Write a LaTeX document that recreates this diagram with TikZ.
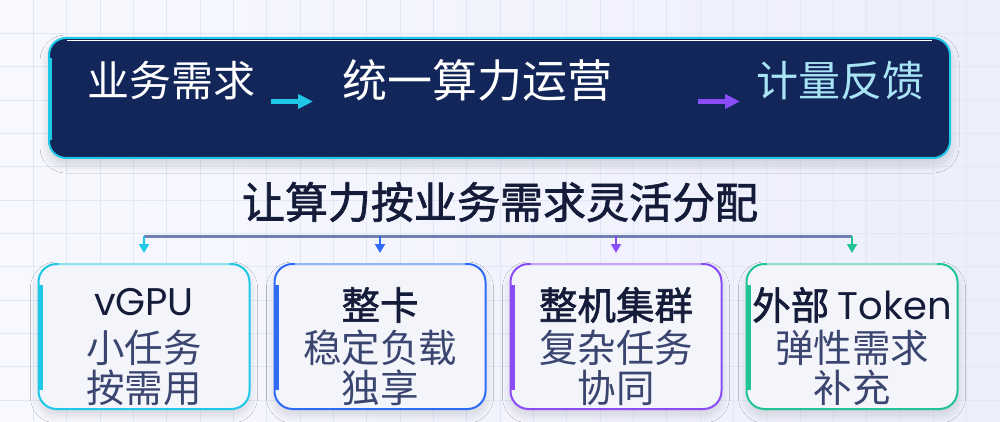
\documentclass[tikz,border=0pt]{standalone}
\usepackage{fontspec}
\setmainfont{Noto Sans CJK SC}
\newfontfamily\cjkmed[FakeBold=1.6]{Noto Sans CJK SC}
\newfontfamily\geo{Poppins}
\usetikzlibrary{arrows.meta,shadows.blur}
\definecolor{bgL}{HTML}{F8F9FE}
\definecolor{bgR}{HTML}{ECEEFC}
\definecolor{gridc}{HTML}{E2E7F5}
\definecolor{navy}{HTML}{13265A}
\definecolor{cyanC}{HTML}{1FC8E6}
\definecolor{blueC}{HTML}{2E6CF6}
\definecolor{purpC}{HTML}{8A4CF5}
\definecolor{greenC}{HTML}{22C495}
\definecolor{lightcyan}{HTML}{A8E4F4}
\definecolor{ink}{HTML}{141C3A}
\definecolor{subink}{HTML}{3A4570}
\definecolor{busc}{HTML}{6F80B0}
\definecolor{cardfill}{HTML}{F4F5FA}
\tikzset{
  gridline/.style={gridc, line width=0.8pt},
  banner/.style={draw=cyanC, fill=navy, line width=2pt, rounded corners=17pt,
    minimum width=901pt, minimum height=120pt, inner sep=0pt,
    blur shadow={shadow blur steps=20, shadow xshift=0pt, shadow yshift=-6pt, shadow opacity=16, shadow blur radius=9pt}},
  card/.style={fill=cardfill, line width=2pt, rounded corners=18pt,
    minimum width=211pt, minimum height=145pt, inner sep=0pt,
    blur shadow={shadow blur steps=20, shadow xshift=0pt, shadow yshift=-6pt, shadow opacity=14, shadow blur radius=8pt}},
  bantext/.style={inner sep=0pt, font=\fontsize{42}{50}\selectfont},
  title/.style={inner sep=0pt, text=ink, font=\fontsize{43}{50}\selectfont\cjkmed},
  hdr/.style={inner sep=0pt, text=ink, font=\fontsize{38.5}{42}\selectfont\cjkmed},
  hdrlat/.style={inner sep=0pt, text=ink, font=\fontsize{38.5}{42}\selectfont},
  sub/.style={inner sep=0pt, text=subink, align=center, font=\fontsize{38.5}{40}\selectfont},
  flowarrow/.style={line width=5pt, -{Triangle[length=15pt,width=14pt]}},
  downarrow/.style={line width=2pt, -{Triangle[length=9pt,width=10pt]}, shorten >=10pt},
}
\begin{document}
\begin{tikzpicture}[x=1pt,y=-1pt]
\useasboundingbox (0,0) rectangle (1000,422);
\shade[left color=bgL, right color=bgR] (0,0) rectangle (1000,422);
\foreach \i in {1,...,29} \draw[gridline] ({\i*100/3},0) -- ({\i*100/3},422);
\foreach \j in {1,...,12} \draw[gridline] (0,{\j*100/3}) -- (1000,{\j*100/3});

% banner
\node[banner] (banner) at (499.5,98) {};
\draw[cyanC, line width=4pt] (50,58) -- (50,140);
\draw[white, line width=1pt] (67,40.5) -- (932,40.5);
\node[bantext, text=white] (t1) at (171.5,81) {业务需求};
\node[bantext, text=white, font=\fontsize{45}{50}\selectfont] (t2) at (477.5,80) {统一算力运营};
\node[bantext, text=lightcyan] (t3) at (840,81) {计量反馈};
\coordinate (a1s) at (271,101.5);
\coordinate (a1e) at (313,101.5);
\coordinate (a2s) at (698,101.5);
\coordinate (a2e) at (740,101.5);
\draw[flowarrow, cyanC] (a1s) -- (a1e);
\draw[flowarrow, purpC] (a2s) -- (a2e);

% title
\node[title] (title) at (500,202) {让算力按业务需求灵活分配};

% bus
\coordinate (bus1) at (144,236);
\coordinate (bus2) at (380,236);
\coordinate (bus3) at (616,236);
\coordinate (bus4) at (852,236);
\draw[busc, line width=3pt] (bus1) -- (bus4);

% cards
\foreach \n/\cx/\c in {1/144/cyanC, 2/380/blueC, 3/616/purpC, 4/852/greenC}{
  \node[card, draw=\c] (b\n) at (\cx,336.5) {};
  \draw[\c!50!white, line width=2pt] (\cx-85,264) -- (\cx+85,264);
  \draw[\c, line width=4.5pt] (\cx-105.5+2,285) -- (\cx-105.5+2,390);
  \draw[downarrow, \c] (bus\n) -- (b\n.north);
}

\node[hdrlat] (h1) at (144,302.5) {\geo vGPU};
\node[sub] (s1) at (144,368) {小任务\\按需用};
\node[hdr] (h2) at (380,305) {整卡};
\node[sub] (s2) at (380,368) {稳定负载\\独享};
\node[hdr] (h3) at (616,305) {整机集群};
\node[sub] (s3) at (616,368) {复杂任务\\协同};
\node[hdrlat] (h4) at (852,305) {{\cjkmed 外部} {\geo Token}};
\node[sub] (s4) at (852,368) {弹性需求\\补充};
\end{tikzpicture}
\end{document}
